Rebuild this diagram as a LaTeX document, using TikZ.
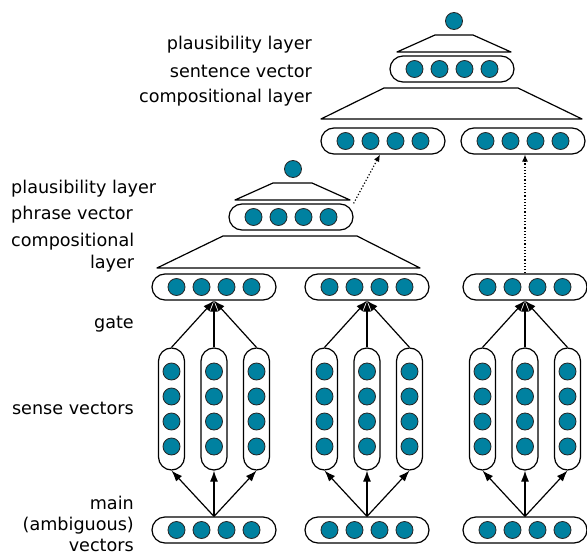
\documentclass[tikz,border=0pt]{standalone}
\usepackage{fontspec}
\setmainfont{DejaVu Sans}
\usetikzlibrary{arrows.meta}

\definecolor{unitblue}{RGB}{0,129,160}

\tikzset{
    hvec/.style={draw, line width=1.2pt, fill=white, rounded corners=13pt,
        minimum width=124pt, minimum height=26pt, inner sep=0pt},
    vvec/.style={draw, line width=1.2pt, fill=white, rounded corners=13pt,
        minimum width=26pt, minimum height=122pt, inner sep=0pt},
    unit/.style={circle, draw=black!85, line width=0.8pt, fill=unitblue,
        minimum size=17pt, inner sep=0pt},
    layer/.style={draw, line width=1.2pt, fill=white, line join=round},
    up/.style={-{Latex[length=11pt,width=8pt]}, line width=1.2pt},
    skip/.style={-{Latex[length=7pt,width=6pt]}, line width=1.2pt, dotted},
    lbl/.style={font=\fontsize{17.6}{22}\selectfont, inner sep=0pt}
}

\begin{document}
\begin{tikzpicture}[x=1pt, y=-1pt]
    \useasboundingbox (0,0) rectangle (587,557);

    % Word level: main vectors, sense vectors, gate
    \foreach \g/\x in {1/214, 2/367, 3/525} {
        \node[hvec] (main\g) at (\x,530) {};
        \node[hvec] (gate\g) at (\x,287) {};
        \foreach \k/\d in {1/-37.5, 2/-12.5, 3/12.5, 4/37.5} {
            \node[unit] (main\g-\k) at ([xshift=\d pt]main\g.center) {};
            \node[unit] (gate\g-\k) at ([xshift=\d pt]gate\g.center) {};
        }
        \foreach \s/\o in {a/-42.5, b/0, c/42.5} {
            \node[vvec] (sense\g\s) at (\x+\o,409) {};
            \foreach \k/\d in {1/-37.5, 2/-12.5, 3/12.5, 4/37.5}
                \node[unit] (sense\g\s-\k) at ([yshift=\d pt]sense\g\s.center) {};
            \draw[up] (main\g.north) -- (sense\g\s.south);
            \draw[up] (sense\g\s.north) -- (gate\g.south);
        }
    }

    % Phrase level
    \draw[layer] (157,268) -- (223,236) -- (357,236) -- (420,268) -- cycle;
    \node[hvec] (phrase) at (291,217) {};
    \foreach \k/\d in {1/-37.5, 2/-12.5, 3/12.5, 4/37.5}
        \node[unit] (phrase-\k) at ([xshift=\d pt]phrase.center) {};
    \draw[layer] (235,200) -- (273,183) -- (312,183) -- (350,200) -- cycle;
    \node[unit] (plaus1) at (293,169) {};

    % Sentence level
    \foreach \g/\x in {1/383, 2/523} {
        \node[hvec] (sent\g) at (\x,141) {};
        \foreach \k/\d in {1/-37.5, 2/-12.5, 3/12.5, 4/37.5}
            \node[unit] (sent\g-\k) at ([xshift=\d pt]sent\g.center) {};
    }
    \draw[layer] (321,119) -- (384,88) -- (518,88) -- (582,119) -- cycle;
    \node[hvec] (sentence) at (452,69) {};
    \foreach \k/\d in {1/-37.5, 2/-12.5, 3/12.5, 4/37.5}
        \node[unit] (sentence-\k) at ([xshift=\d pt]sentence.center) {};
    \draw[layer] (397,52) -- (435,35) -- (473,35) -- (511,52) -- cycle;
    \node[unit] (plaus2) at (454,21) {};

    % Skip connections
    \draw[skip] (phrase.north east) -- ([xshift=-3pt]sent1.south);
    \draw[skip] (gate3.north) -- (gate3.north |- sent2.south);

    % Labels
    \node[lbl, anchor=east] (lplaus2) at (312,45) {plausibility layer};
    \node[lbl, anchor=east] (lsent) at (312,71) {sentence vector};
    \node[lbl, anchor=east] (lcomp2) at (312,98) {compositional layer};
    \node[lbl, anchor=west] (lplaus1) at (11,189) {plausibility layer};
    \node[lbl, anchor=west] (lphrase) at (11,215) {phrase vector};
    \node[lbl, anchor=west, align=right] (lcomp1) at (11,253) {compositional\\layer};
    \node[lbl, anchor=east] (lgate) at (134,324) {gate};
    \node[lbl, anchor=east] (lsense) at (134,408) {sense vectors};
    \node[lbl, anchor=south east, align=right, font=\fontsize{17.6}{21}\selectfont]
        (lmain) at (134,552) {main\\(ambiguous)\\vectors};
\end{tikzpicture}
\end{document}
